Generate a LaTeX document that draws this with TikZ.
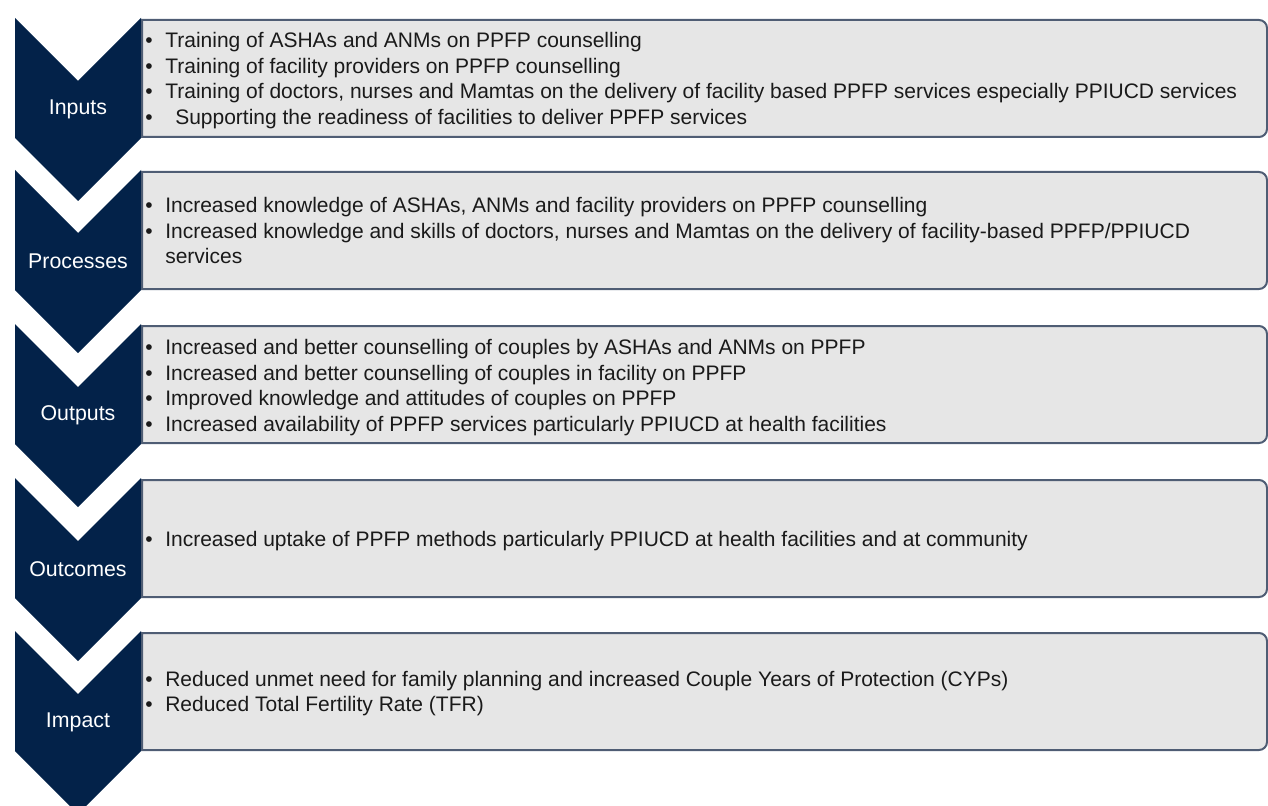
\documentclass[tikz,border=0pt]{standalone}
\usepackage{fontspec}
\setmainfont{Liberation Sans}

\definecolor{navy}{HTML}{032249}
\definecolor{boxfill}{HTML}{E6E6E6}
\definecolor{boxline}{HTML}{4F5D74}
\definecolor{ink}{HTML}{1A1A1A}

\tikzset{
  chevron/.style={fill=navy, draw=none},
  stepbox/.style={fill=boxfill, draw=boxline, line width=1.5pt},
  steplabel/.style={text=white, inner sep=0pt, font=\fontsize{16}{19}\selectfont},
  bullets/.style={anchor=west, inner sep=0pt, text=ink, font=\fontsize{15.75}{19.1}\selectfont},
}

\begin{document}
\begin{tikzpicture}[x=0.75pt, y=-0.75pt]
\useasboundingbox (0,0) rectangle (1268,806);
\clip (0,0) rectangle (1268,806);

% chevrons down the left side
\fill[chevron] (15,18) -- (78,81) -- (141,18) -- (141,138) -- (78,201) -- (15,138) -- cycle;
\fill[chevron] (15,170) -- (78,233) -- (141,170) -- (141,290) -- (78,353) -- (15,290) -- cycle;
\fill[chevron] (15,324) -- (78,387) -- (141,324) -- (141,444) -- (78,507) -- (15,444) -- cycle;
\fill[chevron] (15,478) -- (78,541) -- (141,478) -- (141,598) -- (78,661) -- (15,598) -- cycle;
\fill[chevron] (15,631) -- (78,694) -- (141,631) -- (141,751) -- (78,814) -- (15,751) -- cycle;

% grey boxes, rounded on the right only
\draw[stepbox] (142,20) -- (1259,20) arc[start angle=-90, end angle=0, radius=8] -- (1267,129) arc[start angle=0, end angle=90, radius=8] -- (142,137) -- cycle;
\draw[stepbox] (142,172) -- (1259,172) arc[start angle=-90, end angle=0, radius=8] -- (1267,281) arc[start angle=0, end angle=90, radius=8] -- (142,289) -- cycle;
\draw[stepbox] (142,326) -- (1259,326) arc[start angle=-90, end angle=0, radius=8] -- (1267,435) arc[start angle=0, end angle=90, radius=8] -- (142,443) -- cycle;
\draw[stepbox] (142,480) -- (1259,480) arc[start angle=-90, end angle=0, radius=8] -- (1267,589) arc[start angle=0, end angle=90, radius=8] -- (142,597) -- cycle;
\draw[stepbox] (142,633) -- (1259,633) arc[start angle=-90, end angle=0, radius=8] -- (1267,742) arc[start angle=0, end angle=90, radius=8] -- (142,750) -- cycle;

% stage names
\node[steplabel] (inputs) at (78,109) {Inputs};
\node[steplabel] (processes) at (78,261) {Processes};
\node[steplabel] (outputs) at (78,415) {Outputs};
\node[steplabel] (outcomes) at (78,569) {Outcomes};
\node[steplabel] (impact) at (78,722) {Impact};

% bullet lists
\node[bullets] (inputs-list) at (145,81) {\begin{tabular}{@{}p{15pt}@{}l@{}}
\textbullet & Training of ASHAs and ANMs on PPFP counselling\\
\textbullet & Training of facility providers on PPFP counselling\\
\textbullet & Training of doctors, nurses and Mamtas on the delivery of facility based PPFP services especially PPIUCD services\\
\textbullet & \hspace{7.5pt}Supporting the readiness of facilities to deliver PPFP services
\end{tabular}};
\node[bullets] (processes-list) at (145,233) {\begin{tabular}{@{}p{15pt}@{}l@{}}
\textbullet & Increased knowledge of ASHAs, ANMs and facility providers on PPFP counselling\\
\textbullet & Increased knowledge and skills of doctors, nurses and Mamtas on the delivery of facility-based PPFP/PPIUCD\\
 & services
\end{tabular}};
\node[bullets] (outputs-list) at (145,388) {\begin{tabular}{@{}p{15pt}@{}l@{}}
\textbullet & Increased and better counselling of couples by ASHAs and ANMs on PPFP\\
\textbullet & Increased and better counselling of couples in facility on PPFP\\
\textbullet & Improved knowledge and attitudes of couples on PPFP\\
\textbullet & Increased availability of PPFP services particularly PPIUCD at health facilities
\end{tabular}};
\node[bullets] (outcomes-list) at (145,541) {\begin{tabular}{@{}p{15pt}@{}l@{}}
\textbullet & Increased uptake of PPFP methods particularly PPIUCD at health facilities and at community
\end{tabular}};
\node[bullets] (impact-list) at (145,694) {\begin{tabular}{@{}p{15pt}@{}l@{}}
\textbullet & Reduced unmet need for family planning and increased Couple Years of Protection (CYPs)\\
\textbullet & Reduced Total Fertility Rate (TFR)
\end{tabular}};
\end{tikzpicture}
\end{document}
